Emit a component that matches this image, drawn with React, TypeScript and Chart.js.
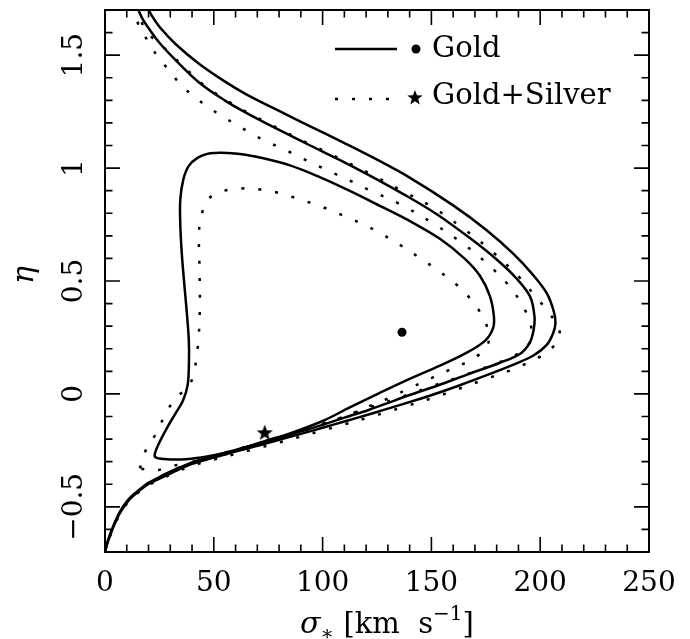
import React, { useEffect, useRef } from "react";
import { Chart, registerables } from "chart.js";

Chart.register(...registerables);

// ---------- axis definitions ----------
const xMin = 0;
const xMax = 250;
const yMin = -0.7;
const yMax = 1.7;
const xTickValues = [0, 50, 100, 150, 200, 250];
const xTickLabels = ["0", "50", "100", "150", "200", "250"];
const yTickValues = [-0.5, 0, 0.5, 1, 1.5];
const yTickLabels = ["\u22120.5", "0", "0.5", "1", "1.5"];
const xMinorStep = 10;
const yMinorStep = 0.1;

// ---------- Gold (solid) contours ----------
const goldInnerX = [52, 56, 62, 71, 85, 98.7, 112.5, 126.3, 140, 153.9, 165.4, 172.3, 176.8, 178.7, 178.3, 174.6, 165.4, 153.9, 140, 126.3, 112.5, 100, 85, 73, 65, 55, 45, 35, 27, 23.5, 22.8, 24.5, 28.5, 32.5, 35.8, 38, 38.6, 38.5, 37.6, 36.5, 35.3, 34.6, 34.6, 36, 38.5, 42.5, 47, 52];
const goldInnerY = [1.068, 1.067, 1.062, 1.047, 1.012, 0.96, 0.899, 0.833, 0.766, 0.687, 0.598, 0.523, 0.435, 0.346, 0.29, 0.235, 0.178, 0.125, 0.067, 0.005, -0.06, -0.12, -0.175, -0.21, -0.235, -0.262, -0.28, -0.29, -0.288, -0.282, -0.27, -0.225, -0.15, -0.085, -0.03, 0.04, 0.15, 0.24, 0.36, 0.48, 0.62, 0.75, 0.86, 0.95, 1.01, 1.045, 1.063, 1.068];

const goldMidX = [14.5, 17, 20, 25.1, 32.9, 43.5, 55, 64.5, 79.8, 94.3, 109.6, 121.5, 136.9, 152.3, 167.7, 180, 189.2, 195.4, 197.4, 196.9, 195.1, 190.8, 181.5, 167.7, 152.3, 140, 129.2, 121.5, 110, 100, 90, 80, 70, 60, 50, 40, 31, 25, 19, 14.3, 10.5, 6.7, 3.6, 1.3, 0];
const goldMidY = [1.72, 1.665, 1.62, 1.554, 1.474, 1.377, 1.3, 1.247, 1.17, 1.1, 1.028, 0.968, 0.886, 0.797, 0.69, 0.595, 0.51, 0.43, 0.34, 0.28, 0.225, 0.178, 0.138, 0.09, 0.035, -0.005, -0.043, -0.07, -0.105, -0.137, -0.166, -0.194, -0.222, -0.248, -0.275, -0.303, -0.34, -0.368, -0.4, -0.436, -0.47, -0.524, -0.59, -0.65, -0.7];

const goldOuterX = [19, 21.5, 25.1, 32.9, 43.5, 55, 64.5, 79.8, 94.3, 109.6, 121.5, 140, 160, 175.4, 187.7, 196.9, 203, 206.2, 207, 205.8, 203, 196.9, 187.7, 175.4, 161.5, 149.2, 136.9, 127.7, 121.5, 110, 100, 90, 80, 70, 60, 50, 40, 31, 25, 19, 14.3, 10.5, 6.7, 3.6, 1.3, 0];
const goldOuterY = [1.72, 1.675, 1.625, 1.545, 1.46, 1.384, 1.329, 1.254, 1.185, 1.113, 1.055, 0.958, 0.835, 0.725, 0.62, 0.525, 0.446, 0.367, 0.312, 0.265, 0.217, 0.17, 0.13, 0.083, 0.033, -0.008, -0.045, -0.072, -0.09, -0.122, -0.15, -0.177, -0.203, -0.23, -0.255, -0.282, -0.31, -0.348, -0.375, -0.405, -0.44, -0.476, -0.53, -0.595, -0.655, -0.7];

// ---------- Gold+Silver (dotted) contours ----------
const silverInnerX = [16, 18.7, 23.2, 28.6, 33.2, 37.5, 40.5, 42.8, 43.6, 43.4, 43.2, 44.3, 47.7, 55, 63, 71.4, 79.8, 87.5, 95.1, 102.8, 110.4, 118, 125, 135.5, 145, 154, 162, 168, 172.5, 175.5, 176.5, 175.5, 172, 166, 158, 150, 140, 130, 120, 110, 100, 90, 80, 70, 60, 50, 40, 30, 23, 16];
const silverInnerY = [-0.33, -0.25, -0.18, -0.075, -0.01, 0.02, 0.08, 0.225, 0.4, 0.57, 0.715, 0.79, 0.865, 0.9, 0.91, 0.905, 0.89, 0.868, 0.844, 0.817, 0.786, 0.754, 0.72, 0.66, 0.6, 0.54, 0.48, 0.42, 0.36, 0.3, 0.25, 0.21, 0.175, 0.14, 0.105, 0.07, 0.025, -0.02, -0.06, -0.1, -0.135, -0.17, -0.2, -0.228, -0.255, -0.28, -0.305, -0.32, -0.34, -0.33];

const silverMidX = [12.8, 15.6, 19.9, 24.5, 29.4, 34.7, 40.8, 47.7, 54.6, 61.5, 68.3, 76, 83.6, 90.5, 98.2, 105.8, 113.5, 121, 135, 150, 165, 177, 186, 192, 195.5, 196, 194, 188, 178, 165, 150, 135, 121.5, 110, 100, 90, 80, 70, 60, 50, 40, 31, 25, 19, 14.3, 10.5, 6.7, 3.6, 1.3, 0];
const silverMidY = [1.72, 1.63, 1.56, 1.489, 1.434, 1.37, 1.318, 1.268, 1.225, 1.186, 1.147, 1.11, 1.077, 1.044, 1.008, 0.974, 0.94, 0.905, 0.843, 0.76, 0.662, 0.565, 0.475, 0.39, 0.31, 0.26, 0.21, 0.168, 0.128, 0.083, 0.033, -0.017, -0.06, -0.1, -0.132, -0.162, -0.192, -0.22, -0.247, -0.274, -0.302, -0.34, -0.368, -0.4, -0.437, -0.472, -0.526, -0.592, -0.652, -0.7];

const silverOuterX = [15.5, 17.1, 21, 26.3, 32.4, 38.2, 44.6, 55, 64.5, 72.2, 79.8, 86.7, 94.3, 102, 109.6, 116.5, 122.6, 135, 150, 165, 178, 190, 198, 204, 207.5, 209, 208, 205, 200, 192, 186, 175, 163, 150, 137, 129, 121.5, 110, 100, 90, 80, 70, 60, 50, 40, 31, 25, 19, 14.3, 10.5, 6.7, 3.6, 1.3, 0];
const silverOuterY = [1.72, 1.64, 1.585, 1.54, 1.484, 1.43, 1.374, 1.305, 1.251, 1.212, 1.175, 1.141, 1.105, 1.07, 1.034, 1.001, 0.971, 0.907, 0.83, 0.73, 0.63, 0.52, 0.43, 0.36, 0.31, 0.27, 0.235, 0.2, 0.165, 0.127, 0.103, 0.066, 0.024, -0.02, -0.058, -0.082, -0.103, -0.135, -0.162, -0.189, -0.215, -0.241, -0.266, -0.291, -0.318, -0.353, -0.38, -0.41, -0.445, -0.48, -0.535, -0.6, -0.658, -0.7];

// ---------- best-fit points ----------
const goldBestX = [136.5];
const goldBestY = [0.273];
const silverBestX = [73.4];
const silverBestY = [-0.17];

const legendLabels = ["Gold", "Gold+Silver"];

const FONT = '"DejaVu Serif", "Liberation Serif", serif';

function pts(xs: number[], ys: number[]) {
  return xs.map((x, i) => ({ x, y: ys[i] }));
}

function drawStar(ctx: CanvasRenderingContext2D, cx: number, cy: number, r: number) {
  const inner = r * 0.42;
  ctx.beginPath();
  for (let i = 0; i < 10; i++) {
    const rad = i % 2 === 0 ? r : inner;
    const ang = -Math.PI / 2 + (i * Math.PI) / 5;
    const px = cx + rad * Math.cos(ang);
    const py = cy + rad * Math.sin(ang);
    if (i === 0) ctx.moveTo(px, py);
    else ctx.lineTo(px, py);
  }
  ctx.closePath();
  ctx.fill();
}

function makeStarCanvas(size: number) {
  const c = document.createElement("canvas");
  c.width = size;
  c.height = size;
  const cx = c.getContext("2d")!;
  cx.fillStyle = "#000";
  drawStar(cx, size / 2, size / 2 + 0.8, size / 2 - 0.5);
  return c;
}

const DOT_DASH = [3, 14];

const framePlugin = {
  id: "pgframe",
  afterDatasetsDraw(chart: any) {
    const { ctx, chartArea: a, scales } = chart;
    const xs = scales.x;
    const ys = scales.y;
    ctx.save();
    ctx.setLineDash([]);
    ctx.strokeStyle = "#000";
    ctx.lineWidth = 2;
    ctx.strokeRect(a.left, a.top, a.right - a.left, a.bottom - a.top);

    // ticks
    ctx.lineWidth = 1.6;
    ctx.beginPath();
    const nx = Math.round((xMax - xMin) / xMinorStep);
    for (let i = 0; i <= nx; i++) {
      const v = xMin + i * xMinorStep;
      const px = xs.getPixelForValue(v);
      const major = xTickValues.some((t) => Math.abs(t - v) < 1e-6);
      const len = major ? 15 : 7.5;
      ctx.moveTo(px, a.bottom);
      ctx.lineTo(px, a.bottom - len);
      ctx.moveTo(px, a.top);
      ctx.lineTo(px, a.top + len);
    }
    const ny = Math.round((yMax - yMin) / yMinorStep);
    for (let i = 0; i <= ny; i++) {
      const v = yMin + i * yMinorStep;
      const py = ys.getPixelForValue(v);
      const major = yTickValues.some((t) => Math.abs(t - v) < 1e-6);
      const len = major ? 15 : 7.5;
      ctx.moveTo(a.left, py);
      ctx.lineTo(a.left + len, py);
      ctx.moveTo(a.right, py);
      ctx.lineTo(a.right - len, py);
    }
    ctx.stroke();

    // tick labels
    ctx.fillStyle = "#000";
    ctx.font = `28px ${FONT}`;
    ctx.textAlign = "center";
    ctx.textBaseline = "middle";
    xTickValues.forEach((v, i) => {
      ctx.fillText(xTickLabels[i], xs.getPixelForValue(v), a.bottom + 32);
    });
    yTickValues.forEach((v, i) => {
      ctx.save();
      ctx.translate(a.left - 30, ys.getPixelForValue(v));
      ctx.rotate(-Math.PI / 2);
      ctx.fillText(yTickLabels[i], 0, 0);
      ctx.restore();
    });

    // x-axis title: sigma_* [km s^-1]
    const big = `29px ${FONT}`;
    const bigIt = `italic 30px ${FONT}`;
    const small = `20px ${FONT}`;
    const parts = [
      { t: "\u03c3", f: bigIt, dy: 0 },
      { t: "\u2217", f: small, dy: 7 },
      { t: " [km  s", f: big, dy: 0 },
      { t: "\u22121", f: small, dy: -13 },
      { t: "]", f: big, dy: 0 },
    ];
    let total = 0;
    const widths = parts.map((p) => {
      ctx.font = p.f;
      const w = ctx.measureText(p.t).width;
      total += w;
      return w;
    });
    let cx = (a.left + a.right) / 2 + 10 - total / 2;
    const base = a.bottom + 81;
    ctx.textAlign = "left";
    ctx.textBaseline = "alphabetic";
    parts.forEach((p, i) => {
      ctx.font = p.f;
      ctx.fillText(p.t, cx, base + p.dy);
      cx += widths[i];
    });

    // y-axis title eta
    ctx.save();
    ctx.translate(a.left - 80, (a.top + a.bottom) / 2 - 6);
    ctx.rotate(-Math.PI / 2);
    ctx.font = `italic 30px ${FONT}`;
    ctx.textAlign = "center";
    ctx.textBaseline = "middle";
    ctx.fillText("\u03b7", 0, 0);
    ctx.restore();

    // legend
    const lx0 = a.left + 230;
    const lx1 = a.left + 292;
    const row1 = a.top + 39;
    const row2 = a.top + 89;
    ctx.lineWidth = 2.5;
    ctx.beginPath();
    ctx.moveTo(lx0, row1);
    ctx.lineTo(lx1, row1);
    ctx.stroke();
    ctx.setLineDash(DOT_DASH);
    ctx.beginPath();
    ctx.moveTo(lx0, row2);
    ctx.lineTo(lx1 + 4, row2);
    ctx.stroke();
    ctx.setLineDash([]);
    ctx.beginPath();
    ctx.arc(a.left + 311, row1, 4.5, 0, Math.PI * 2);
    ctx.fill();
    drawStar(ctx, a.left + 310, row2 - 1, 8);
    ctx.font = `29px ${FONT}`;
    ctx.textAlign = "left";
    ctx.textBaseline = "middle";
    ctx.fillText(legendLabels[0], a.left + 327, row1);
    ctx.fillText(legendLabels[1], a.left + 327, row2 - 3);
    ctx.restore();
  },
};

export default function App() {
  const ref = useRef<HTMLCanvasElement | null>(null);
  useEffect(() => {
    document.body.style.margin = "0";
    const canvas = ref.current!;
    const star = makeStarCanvas(18);
    const solid = (xs: number[], ys: number[]) => ({
      data: pts(xs, ys),
      borderColor: "#000",
      borderWidth: 2.5,
      pointRadius: 0,
      tension: 0.35,
      fill: false,
    });
    const dotted = (xs: number[], ys: number[]) => ({
      ...solid(xs, ys),
      borderDash: DOT_DASH,
      borderCapStyle: "butt",
    });
    const chart = new Chart(canvas, {
      type: "line",
      data: {
        datasets: [
          solid(goldInnerX, goldInnerY),
          solid(goldMidX, goldMidY),
          solid(goldOuterX, goldOuterY),
          dotted(silverInnerX, silverInnerY),
          dotted(silverMidX, silverMidY),
          dotted(silverOuterX, silverOuterY),
          {
            data: pts(goldBestX, goldBestY),
            showLine: false,
            pointStyle: "circle",
            pointRadius: 4.5,
            backgroundColor: "#000",
            borderColor: "#000",
            borderWidth: 0,
          },
          {
            data: pts(silverBestX, silverBestY),
            showLine: false,
            pointStyle: star,
            pointRadius: 9,
            backgroundColor: "#000",
            borderColor: "#000",
          },
        ] as any,
      },
      options: {
        animation: false,
        responsive: false,
        events: [],
        layout: { padding: { left: 105, top: 9, right: 41, bottom: 87 } },
        plugins: { legend: { display: false }, tooltip: { enabled: false } },
        scales: {
          x: { type: "linear", min: xMin, max: xMax, display: false },
          y: { type: "linear", min: yMin, max: yMax, display: false },
        },
      },
      plugins: [framePlugin],
    });
    return () => chart.destroy();
  }, []);
  return (
    <div style={{ width: 690, height: 639, background: "#fff" }}>
      <canvas ref={ref} width={690} height={639} style={{ width: 690, height: 639, display: "block" }} />
    </div>
  );
}
